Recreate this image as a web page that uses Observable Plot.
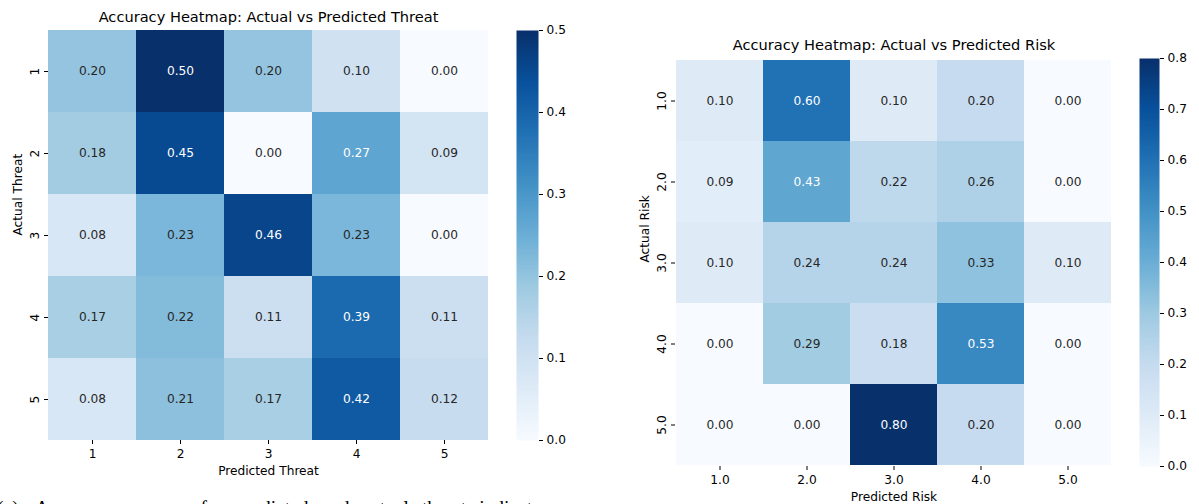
<!DOCTYPE html>
<html><head><meta charset="utf-8">
<script src="https://cdn.jsdelivr.net/npm/d3@7"></script>
<script src="https://cdn.jsdelivr.net/npm/@observablehq/plot@0.6"></script>
<style>
html,body{margin:0;padding:0;background:#fff;}
#wrap{position:relative;width:1199px;height:504px;overflow:hidden;background:#fff;}
#wrap > svg{position:absolute;top:0;}
.cap{position:absolute;font-family:"Liberation Serif","Times New Roman",serif;font-size:19.5px;line-height:20px;color:#000;white-space:nowrap;}
</style></head><body>
<div id="wrap"></div>
<script>
// ---- data ----
const threatLabels = ["1","2","3","4","5"];
const threatMatrix = [
  [0.20, 0.50, 0.20, 0.10, 0.00],
  [0.18, 0.45, 0.00, 0.27, 0.09],
  [0.08, 0.23, 0.46, 0.23, 0.00],
  [0.17, 0.22, 0.11, 0.39, 0.11],
  [0.08, 0.21, 0.17, 0.42, 0.12]
];
const threatMax = 0.5;
const threatTicks = [0.0, 0.1, 0.2, 0.3, 0.4, 0.5];

const riskLabels = ["1.0","2.0","3.0","4.0","5.0"];
const riskMatrix = [
  [0.10, 0.60, 0.10, 0.20, 0.00],
  [0.09, 0.43, 0.22, 0.26, 0.00],
  [0.10, 0.24, 0.24, 0.33, 0.10],
  [0.00, 0.29, 0.18, 0.53, 0.00],
  [0.00, 0.00, 0.80, 0.20, 0.00]
];
const riskMax = 0.8;
const riskTicks = [0.0, 0.1, 0.2, 0.3, 0.4, 0.5, 0.6, 0.7, 0.8];

const blues9 = ["#f7fbff","#deebf7","#c6dbef","#9ecae1","#6baed6","#4292c6","#2171b5","#08519c","#08306b"];

// ---- helpers ----
const FONT = '"DejaVu Sans", sans-serif';
const FS = 12.2;
const fmt = d3.format(".2f");
const stops = vmax => blues9.map((_, i) => i * vmax / (blues9.length - 1));
const colorOpts = vmax => ({type: "linear", domain: stops(vmax), range: blues9, interpolate: "rgb", clamp: true});
function lum(c) {
  const r = d3.rgb(c);
  const f = v => { v /= 255; return v <= 0.03928 ? v / 12.92 : Math.pow((v + 0.055) / 1.055, 2.4); };
  return 0.2126 * f(r.r) + 0.7152 * f(r.g) + 0.0722 * f(r.b);
}
const styleBase = {fontFamily: FONT, fontSize: FS + "px", color: "#000", background: "transparent", overflow: "visible"};

function heatmap(o) {
  const data = o.matrix.flatMap((row, i) => row.map((v, j) => ({a: o.labels[i], p: o.labels[j], v})));
  const cs = d3.scaleLinear().domain(stops(o.vmax)).range(blues9).interpolate(d3.interpolateRgb).clamp(true);
  const dark = d => lum(cs(d.v)) <= 0.408;
  return Plot.plot({
    width: o.width, height: o.height,
    marginLeft: o.ml, marginRight: 0, marginTop: o.mt, marginBottom: o.mb,
    style: styleBase,
    x: {type: "band", domain: o.labels, padding: 0},
    y: {type: "band", domain: o.labels, padding: 0},
    color: colorOpts(o.vmax),
    marks: [
      Plot.cell(data, {x: "p", y: "a", fill: "v", inset: 0}),
      Plot.text(data.filter(d => !dark(d)), {x: "p", y: "a", text: d => fmt(d.v), fill: "#262626", fontSize: FS}),
      Plot.text(data.filter(dark), {x: "p", y: "a", text: d => fmt(d.v), fill: "#ffffff", fontSize: FS}),
      Plot.axisX({tickSize: 4, tickPadding: 5, label: null, fontSize: FS}),
      Plot.axisY({tickSize: 4, tickPadding: 6, tickRotate: -90, label: null, fontSize: FS}),
      Plot.text([o.title], {text: d => d, frameAnchor: "top", dy: -13, lineAnchor: "middle", fontSize: 14.6, fill: "#000"}),
      Plot.text([o.xLabel], {text: d => d, frameAnchor: "bottom", dy: 31, lineAnchor: "middle", fontSize: FS, fill: "#000"}),
      Plot.text([o.yLabel], {text: d => d, frameAnchor: "left", dx: -27, rotate: -90, lineAnchor: "bottom", fontSize: FS, fill: "#000"})
    ]
  });
}

function colorbar(o) {
  return Plot.plot({
    width: o.barW + 40, height: o.height,
    marginLeft: 0, marginRight: 40, marginTop: o.mt, marginBottom: o.mb,
    style: styleBase,
    x: {domain: [0, 1], axis: null},
    y: {domain: [0, o.vmax]},
    color: colorOpts(o.vmax),
    marks: [
      Plot.raster({x1: 0, x2: 1, y1: 0, y2: o.vmax, fill: (x, y) => y, width: 1, height: 300, imageRendering: "auto"}),
      Plot.axisY({anchor: "right", ticks: o.ticks, tickFormat: d3.format(".1f"), tickSize: 4, tickPadding: 4, label: null, fontSize: FS})
    ]
  });
}

const wrap = document.getElementById("wrap");
function place(el, left) { el.style.left = left + "px"; el.style.top = "0px"; wrap.appendChild(el); }

place(heatmap({
  labels: threatLabels, matrix: threatMatrix, vmax: threatMax,
  title: "Accuracy Heatmap: Actual vs Predicted Threat",
  xLabel: "Predicted Threat", yLabel: "Actual Threat",
  width: 488, height: 490, ml: 48, mt: 30, mb: 50
}), 0);
place(colorbar({vmax: threatMax, ticks: threatTicks, barW: 22, height: 450, mt: 30, mb: 10}), 516);

place(heatmap({
  labels: riskLabels, matrix: riskMatrix, vmax: riskMax,
  title: "Accuracy Heatmap: Actual vs Predicted Risk",
  xLabel: "Predicted Risk", yLabel: "Actual Risk",
  width: 512, height: 504, ml: 75, mt: 58, mb: 38
}), 600);
place(colorbar({vmax: riskMax, ticks: riskTicks, barW: 20, height: 476, mt: 58, mb: 10}), 1139);

// caption (cut off at the bottom of the picture, as in the reference)
const c1 = document.createElement("div");
c1.className = "cap"; c1.style.left = "-3px"; c1.style.top = "498px"; c1.textContent = "(a)";
const c2 = document.createElement("div");
c2.className = "cap"; c2.style.left = "35px"; c2.style.top = "498px"; c2.style.wordSpacing = "8px";
c2.textContent = "Accuracy measure for predicted and actual threat indicators";
wrap.appendChild(c1); wrap.appendChild(c2);
</script>
</body></html>
